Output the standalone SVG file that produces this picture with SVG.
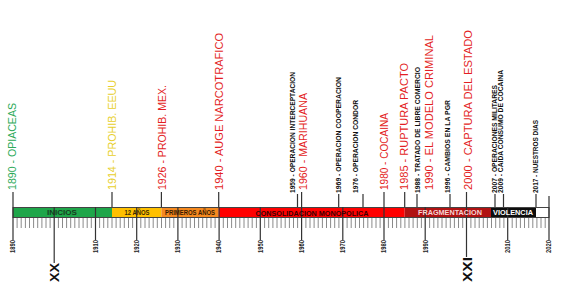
<svg xmlns="http://www.w3.org/2000/svg" width="572" height="298" viewBox="0 0 572 298">
<style>
.ev{font-family:"Liberation Sans",Arial,sans-serif;font-size:11px}
.sm{font-family:"Liberation Sans",Arial,sans-serif;font-size:6.3px;font-weight:bold;fill:#111}
.yr{font-family:"Liberation Sans",Arial,sans-serif;font-size:6.5px;font-weight:bold;fill:#222}
.seg{font-family:"Liberation Sans",Arial,sans-serif;font-size:7px;font-weight:bold;text-anchor:middle}
.cen{font-family:"Liberation Sans",Arial,sans-serif;font-size:13px;font-weight:bold;fill:#111}
.red{fill:#e31e24}
.minor{stroke:#8a8a8a;stroke-width:1}
.major{stroke:#333;stroke-width:1.2}
.lead{stroke:#333;stroke-width:1.2}
</style>
<rect width="572" height="298" fill="#fff"/>

<g id="bar">
<rect x="13" y="207.5" width="99" height="10" fill="#1fa64a"/>
<rect x="112" y="207.5" width="49.4" height="10" fill="#ffc000"/>
<rect x="161.4" y="207.5" width="57.3" height="10" fill="#f5891f"/>
<rect x="218.7" y="207.5" width="186" height="10" fill="#ff0000"/>
<rect x="404.7" y="207.5" width="86.3" height="10" fill="#b01212"/>
<rect x="491" y="207.5" width="45" height="10" fill="#0d0d0d"/>
<rect x="536" y="207.5" width="13" height="10" fill="#fff"/>
<rect x="13" y="207.5" width="536" height="10" fill="none" stroke="#444" stroke-width="1"/>
</g>

<g id="axis">
<path class="minor" d="M17.1 218v10M21.2 218v10M25.4 218v10M29.5 218v10M33.6 218v10M37.7 218v10M41.9 218v10M46 218v10M50.1 218v10M58.4 218v10M62.5 218v10M66.6 218v10M70.7 218v10M74.8 218v10M79 218v10M83.1 218v10M87.2 218v10M91.3 218v10M99.6 218v10M103.7 218v10M107.8 218v10M112 218v10M116.1 218v10M120.2 218v10M124.3 218v10M128.5 218v10M132.6 218v10M140.8 218v10M145 218v10M149.1 218v10M153.2 218v10M157.3 218v10M161.5 218v10M165.6 218v10M169.7 218v10M173.8 218v10M182.1 218v10M186.2 218v10M190.3 218v10M194.5 218v10M198.6 218v10M202.7 218v10M206.8 218v10M211 218v10M215.1 218v10M223.3 218v10M227.5 218v10M231.6 218v10M235.7 218v10M239.8 218v10M244 218v10M248.1 218v10M252.2 218v10M256.4 218v10M264.6 218v10M268.7 218v10M272.9 218v10M277 218v10M281.1 218v10M285.2 218v10M289.4 218v10M293.5 218v10M297.6 218v10M305.9 218v10M310 218v10M314.1 218v10M318.2 218v10M322.4 218v10M326.5 218v10M330.6 218v10M334.7 218v10M338.9 218v10M347.1 218v10M351.2 218v10M355.4 218v10M359.5 218v10M363.6 218v10M367.8 218v10M371.9 218v10M376 218v10M380.1 218v10M388.4 218v10M392.5 218v10M396.6 218v10M400.8 218v10M404.9 218v10M409 218v10M413.1 218v10M417.3 218v10M421.4 218v10M429.6 218v10M433.8 218v10M437.9 218v10M442 218v10M446.1 218v10M450.3 218v10M454.4 218v10M458.5 218v10M462.7 218v10M470.9 218v10M475 218v10M479.2 218v10M483.3 218v10M487.4 218v10M491.5 218v10M495.7 218v10M499.8 218v10M503.9 218v10M512.2 218v10M516.3 218v10M520.4 218v10M524.5 218v10M528.7 218v10M532.8 218v10M536.9 218v10M541 218v10M545.2 218v10"/>
<path class="major" d="M13 207v33M95.5 207v33M136.7 207v33M177.9 207v33M219.1 207v33M260.3 207v33M301.6 207v33M342.8 207v33M384 207v33M425.2 207v33M507.7 207v33M549 196v44"/>
<path class="major" d="M54.2 207v56M466.5 207v50"/>
<text class="yr" transform="translate(15.3,253) rotate(-90)" textLength="13" lengthAdjust="spacingAndGlyphs">1890</text>
<text class="yr" transform="translate(97.8,253) rotate(-90)" textLength="13" lengthAdjust="spacingAndGlyphs">1910</text>
<text class="yr" transform="translate(139,253) rotate(-90)" textLength="13" lengthAdjust="spacingAndGlyphs">1920</text>
<text class="yr" transform="translate(180.2,253) rotate(-90)" textLength="13" lengthAdjust="spacingAndGlyphs">1930</text>
<text class="yr" transform="translate(221.4,253) rotate(-90)" textLength="13" lengthAdjust="spacingAndGlyphs">1940</text>
<text class="yr" transform="translate(262.6,253) rotate(-90)" textLength="13" lengthAdjust="spacingAndGlyphs">1950</text>
<text class="yr" transform="translate(303.9,253) rotate(-90)" textLength="13" lengthAdjust="spacingAndGlyphs">1960</text>
<text class="yr" transform="translate(345.1,253) rotate(-90)" textLength="13" lengthAdjust="spacingAndGlyphs">1970</text>
<text class="yr" transform="translate(386.3,253) rotate(-90)" textLength="13" lengthAdjust="spacingAndGlyphs">1980</text>
<text class="yr" transform="translate(427.5,253) rotate(-90)" textLength="13" lengthAdjust="spacingAndGlyphs">1990</text>
<text class="yr" transform="translate(510,253) rotate(-90)" textLength="13" lengthAdjust="spacingAndGlyphs">2010</text>
<text class="yr" transform="translate(551.3,253) rotate(-90)" textLength="13" lengthAdjust="spacingAndGlyphs">2020</text>
</g>

<g id="siglo-xx"><text class="cen" transform="translate(58.8,282) rotate(-90)" textLength="19" lengthAdjust="spacingAndGlyphs">XX</text></g>
<g id="siglo-xxi"><text class="cen" transform="translate(471.5,282) rotate(-90)" textLength="25" lengthAdjust="spacingAndGlyphs">XXI</text></g>

<g id="periodo-inicios"><text class="seg" x="62" y="215" fill="#173d1f" textLength="30" lengthAdjust="spacingAndGlyphs">INICIOS</text></g>
<g id="periodo-12"><text class="seg" x="137" y="215" fill="#3a2a00" textLength="25" lengthAdjust="spacingAndGlyphs">12 AÑOS</text></g>
<g id="periodo-primeros"><text class="seg" x="190" y="215" fill="#3a1a00" textLength="50" lengthAdjust="spacingAndGlyphs">PRIMEROS AÑOS</text></g>
<g id="periodo-consolidacion"><text class="seg" x="312" y="215.5" fill="#3a0000" font-size="8" textLength="113" lengthAdjust="spacingAndGlyphs">CONSOLIDACION MONOPOLICA</text></g>
<g id="periodo-fragmentacion"><text class="seg" x="450" y="215" fill="#f6d4d4" textLength="64" lengthAdjust="spacingAndGlyphs">FRAGMENTACION</text></g>
<g id="periodo-violencia"><text class="seg" x="513" y="215" fill="#fff" textLength="40" lengthAdjust="spacingAndGlyphs">VIOLENCIA</text></g>

<g id="connectors">
<path class="lead" d="M13 192v15M112 192v15M161.4 192v15M218.7 192v15M297.5 194v13M301.6 192v15M338.7 194v13M363 194v13M384 192v15M404.7 192v15M417 194v13M450 194v13M466.5 192v15M495 194v13M503.5 194v13M536 194v13"/>
</g>

<g id="e1890"><text class="ev" fill="#2eaa5a" transform="translate(16,190) rotate(-90)" textLength="87" lengthAdjust="spacingAndGlyphs">1890 - OPIACEAS</text></g>
<g id="e1914"><text class="ev" fill="#e8cf2c" transform="translate(115.5,190) rotate(-90)" textLength="110" lengthAdjust="spacingAndGlyphs">1914 - PROHIB. EEUU</text></g>
<g id="e1926"><text class="ev red" transform="translate(165.5,190) rotate(-90)" textLength="105" lengthAdjust="spacingAndGlyphs">1926 - PROHIB. MEX.</text></g>
<g id="e1940"><text class="ev red" transform="translate(223,190) rotate(-90)" textLength="157" lengthAdjust="spacingAndGlyphs">1940 - AUGE NARCOTRAFICO</text></g>
<g id="e1959"><text class="sm" transform="translate(294.7,193) rotate(-90)" textLength="121" lengthAdjust="spacingAndGlyphs">1959 - OPERACION INTERCEPTACION</text></g>
<g id="e1960"><text class="ev red" transform="translate(306.5,190) rotate(-90)" textLength="97" lengthAdjust="spacingAndGlyphs">1960 - MARIHUANA</text></g>
<g id="e1969"><text class="sm" transform="translate(340.7,193) rotate(-90)" textLength="116" lengthAdjust="spacingAndGlyphs">1969 - OPERACION COOPERACION</text></g>
<g id="e1976"><text class="sm" transform="translate(357.7,193) rotate(-90)" textLength="93" lengthAdjust="spacingAndGlyphs">1976 - OPERACION CONDOR</text></g>
<g id="e1980"><text class="ev red" transform="translate(388,190) rotate(-90)" textLength="77" lengthAdjust="spacingAndGlyphs">1980 - COCAINA</text></g>
<g id="e1985"><text class="ev red" transform="translate(408,190) rotate(-90)" textLength="127" lengthAdjust="spacingAndGlyphs">1985 - RUPTURA PACTO</text></g>
<g id="e1988"><text class="sm" transform="translate(419.7,193) rotate(-90)" textLength="126" lengthAdjust="spacingAndGlyphs">1988 - TRATADO DE LIBRE COMERCIO</text></g>
<g id="e1990"><text class="ev red" transform="translate(433,190) rotate(-90)" textLength="155" lengthAdjust="spacingAndGlyphs">1990 - EL MODELO CRIMINAL</text></g>
<g id="e1996"><text class="sm" transform="translate(450.2,193) rotate(-90)" textLength="93" lengthAdjust="spacingAndGlyphs">1996 - CAMBIOS EN LA PGR</text></g>
<g id="e2000"><text class="ev red" transform="translate(471.5,190) rotate(-90)" textLength="160" lengthAdjust="spacingAndGlyphs">2000 - CAPTURA DEL ESTADO</text></g>
<g id="e2007"><text class="sm" transform="translate(497.2,193) rotate(-90)" textLength="108" lengthAdjust="spacingAndGlyphs">2007 - OPERACIONES MILITARES</text></g>
<g id="e2009"><text class="sm" transform="translate(503.2,193) rotate(-90)" textLength="123" lengthAdjust="spacingAndGlyphs">2009 - CAIDA CONSUMO DE COCAINA</text></g>
<g id="e2017"><text class="sm" transform="translate(537.7,193) rotate(-90)" textLength="73" lengthAdjust="spacingAndGlyphs">2017 - NUESTROS DIAS</text></g>
</svg>
